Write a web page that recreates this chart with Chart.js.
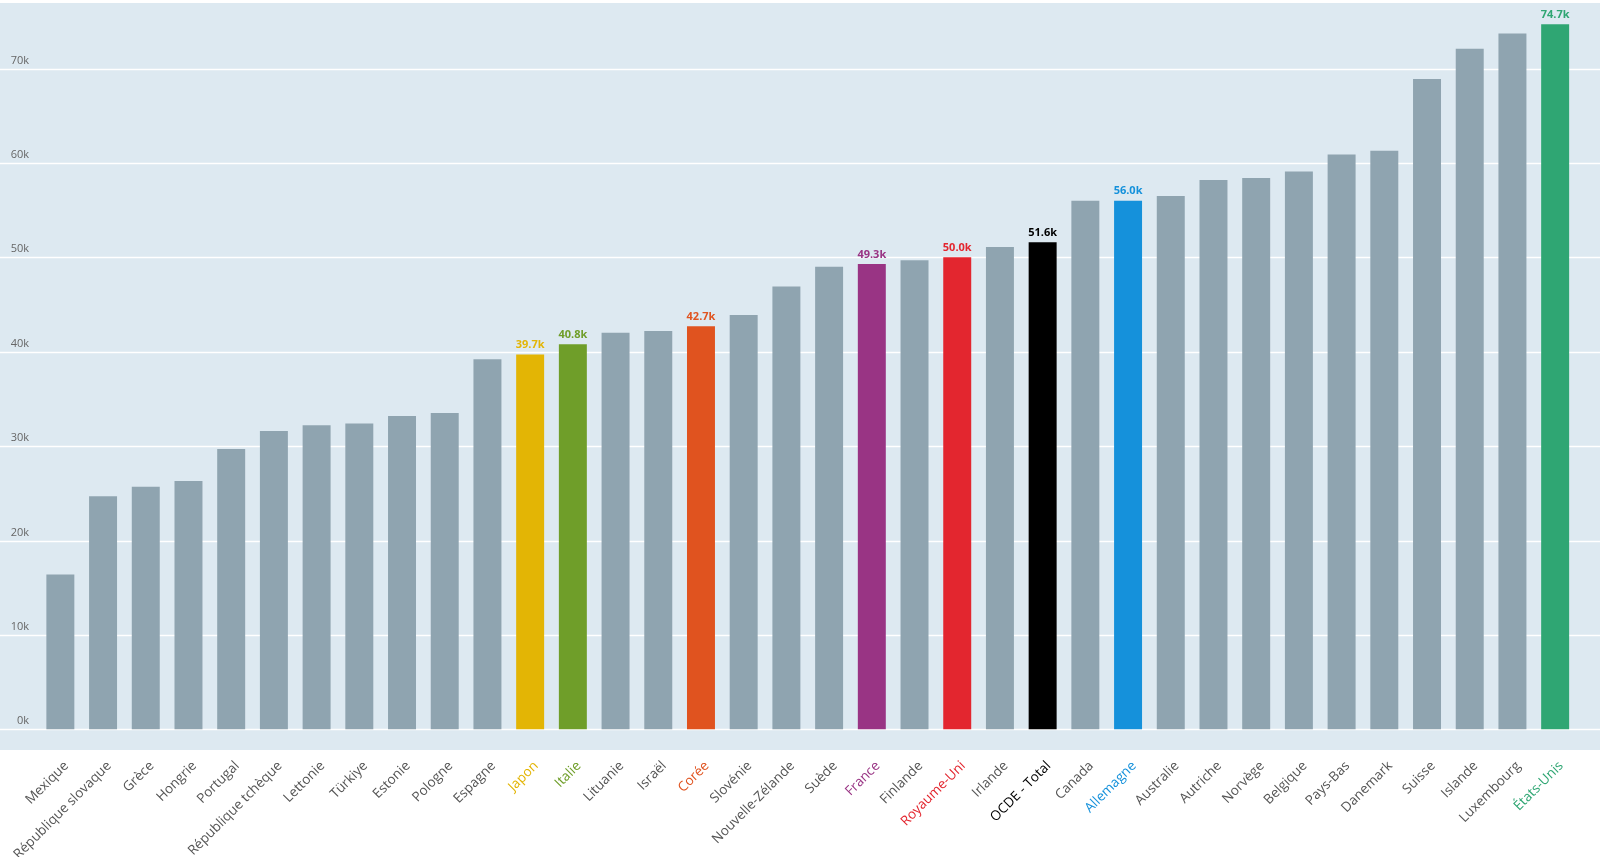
<!DOCTYPE html>
<html lang="fr">
<head>
<meta charset="utf-8">
<title>Salaires moyens OCDE</title>
<script src="https://cdn.jsdelivr.net/npm/chart.js@4/dist/chart.umd.min.js"></script>
<style>
    html, body { margin: 0; padding: 0; background: #fff; }
    #wrap { width: 1600px; height: 857px; }
</style>
</head>
<body>
<div id="wrap"><canvas id="salaires" width="1600" height="857"></canvas></div>
<script>
// Pays (triés par salaire moyen)
const pays = [
    'Mexique', 'République slovaque', 'Grèce', 'Hongrie', 'Portugal', 'République tchèque',
    'Lettonie', 'Türkiye', 'Estonie', 'Pologne', 'Espagne', 'Japon', 'Italie', 'Lituanie',
    'Israël', 'Corée', 'Slovénie', 'Nouvelle-Zélande', 'Suède', 'France', 'Finlande',
    'Royaume-Uni', 'Irlande', 'OCDE - Total', 'Canada', 'Allemagne', 'Australie', 'Autriche',
    'Norvège', 'Belgique', 'Pays-Bas', 'Danemark', 'Suisse', 'Islande', 'Luxembourg', 'États-Unis'
];

// Salaire moyen annuel, en milliers
const salaires = [
    16.4, 24.7, 25.7, 26.3, 29.7, 31.6,
    32.2, 32.4, 33.2, 33.5, 39.2, 39.7, 40.8, 42.0,
    42.2, 42.7, 43.9, 46.9, 49.0, 49.3, 49.7,
    50.0, 51.1, 51.6, 56.0, 56.0, 56.5, 58.2,
    58.4, 59.1, 60.9, 61.3, 68.9, 72.1, 73.7, 74.7
];

// Graduations de l'axe vertical
const graduations = [0, 10, 20, 30, 40, 50, 60, 70];

// Pays mis en évidence
const couleursPays = {
    'Japon': '#e3b505',
    'Italie': '#6f9e29',
    'Corée': '#e0531f',
    'France': '#993484',
    'Royaume-Uni': '#e3262f',
    'OCDE - Total': '#000000',
    'Allemagne': '#1591db',
    'États-Unis': '#2fa673'
};

const GRIS = '#8fa4b0';
const FOND = '#dde9f1';

const couleurBarre = pays.map(p => couleursPays[p] || GRIS);
const couleurEtiquette = pays.map(p => couleursPays[p] || '#555555');

// Fond bleu clair + lignes blanches sur toute la largeur (avant les axes)
const fondPlugin = {
    id: 'fond',
    beforeDraw(chart) {
        const { ctx, chartArea, scales } = chart;
        ctx.save();
        ctx.fillStyle = FOND;
        ctx.fillRect(0, chartArea.top, chart.width, chartArea.bottom - chartArea.top);
        ctx.strokeStyle = '#ffffff';
        ctx.lineWidth = 1.5;
        graduations.forEach(v => {
            const y = Math.round(scales.y.getPixelForValue(v)) + 0.5;
            ctx.beginPath();
            ctx.moveTo(0, y);
            ctx.lineTo(chart.width, y);
            ctx.stroke();
        });
        ctx.restore();
    }
};

// Valeurs au-dessus des barres colorées
const valeursPlugin = {
    id: 'valeurs',
    afterDatasetsDraw(chart) {
        const { ctx } = chart;
        const meta = chart.getDatasetMeta(0);
        ctx.save();
        ctx.font = 'bold 11px "Open Sans", sans-serif';
        ctx.textAlign = 'center';
        ctx.textBaseline = 'bottom';
        meta.data.forEach((bar, i) => {
            const c = couleursPays[pays[i]];
            if (!c) return;
            ctx.fillStyle = c;
            ctx.fillText(salaires[i].toFixed(1) + 'k', bar.x, bar.y - 4);
        });
        ctx.restore();
    }
};

const ctx = document.getElementById('salaires').getContext('2d');
new Chart(ctx, {
    type: 'bar',
    data: {
        labels: pays,
        datasets: [{
            label: 'Salaire moyen',
            data: salaires,
            backgroundColor: couleurBarre,
            borderWidth: 0,
            categoryPercentage: 1,
            barPercentage: 0.655
        }]
    },
    options: {
        responsive: false,
        animation: false,
        layout: { padding: { top: 3, right: 23.5, bottom: 0, left: 0 } },
        plugins: {
            legend: { display: false },
            tooltip: { enabled: false }
        },
        scales: {
            x: {
                grid: { display: false },
                border: { display: false },
                afterFit(scale) {
                    scale.height = 107;
                    scale.paddingLeft = 0;
                    scale.paddingRight = 0;
                },
                ticks: {
                    autoSkip: false,
                    minRotation: 45,
                    maxRotation: 45,
                    padding: 0,
                    labelOffset: 6,
                    font: { family: '"Open Sans", sans-serif', size: 13.5 },
                    color: c => couleurEtiquette[c.index]
                }
            },
            y: {
                min: -2.19,
                max: 76.94,
                grid: { display: false, drawTicks: false },
                border: { display: false },
                afterFit(scale) {
                    scale.width = 39;
                    scale.paddingTop = 0;
                    scale.paddingBottom = 0;
                },
                ticks: {
                    stepSize: 10,
                    includeBounds: false,
                    padding: 10,
                    labelOffset: -8,
                    font: { family: '"Open Sans", sans-serif', size: 11 },
                    color: '#666666',
                    callback: v => v + 'k'
                }
            }
        }
    },
    plugins: [fondPlugin, valeursPlugin]
});
</script>
</body>
</html>
